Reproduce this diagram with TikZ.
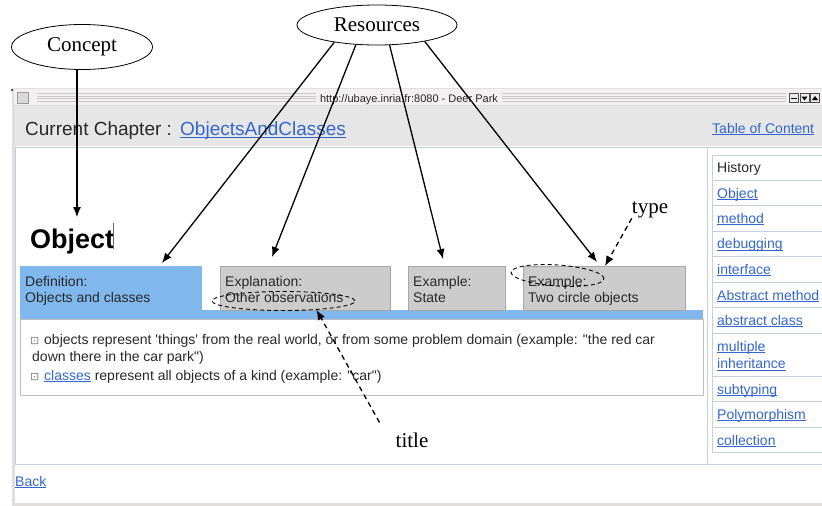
\documentclass[tikz,border=0pt]{standalone}
\usepackage{fontspec}
\usetikzlibrary{shapes.geometric,arrows.meta}
\newfontfamily\ui{Liberation Sans}
\newfontfamily\ann{Liberation Serif}
\newfontfamily\dv{DejaVu Sans}
\definecolor{linkblue}{RGB}{51,102,204}
\definecolor{txtgrey}{RGB}{40,40,40}
\definecolor{tabblue}{RGB}{128,184,238}
\definecolor{tabgrey}{RGB}{204,204,204}
\definecolor{tabborder}{RGB}{168,168,168}
\definecolor{headgrey}{RGB}{230,230,230}
\definecolor{framegrey}{RGB}{226,222,222}
\definecolor{panelline}{RGB}{196,206,222}
\definecolor{barbg}{RGB}{242,240,240}
\definecolor{stripe}{RGB}{200,200,200}
\newcommand\lk[1]{\sbox0{#1}\leavevmode\rlap{\rule[-0.17em]{\wd0}{0.07em}}\usebox0}
\begin{document}
\begin{tikzpicture}[x=1pt,y=-1pt,
  uitext/.style={font=\ui\fontsize{14}{17}\selectfont, text=txtgrey, inner sep=0, anchor=base west},
  bodytext/.style={uitext},
  lnk/.style={uitext, text=linkblue},
  anntext/.style={font=\ann\fontsize{21}{24}\selectfont, inner sep=0},
  annell/.style={ellipse, draw, line width=0.8pt, inner sep=0, anntext},
  arr/.style={line width=1.3pt, -{Latex[length=10pt,width=8pt]}},
  darr/.style={arr, dash pattern=on 5pt off 4pt},
  dell/.style={ellipse, draw, line width=0.9pt, dash pattern=on 4pt off 3pt, inner sep=0},
  tabbox/.style={draw=tabborder, fill=tabgrey, line width=0.8pt},
  panel/.style={draw=panelline, line width=0.8pt},
  winbtn/.style={draw=black!70, fill=black!8, line width=0.5pt, minimum size=9pt, inner sep=0},
  boxicon/.style={uitext, font=\dv\fontsize{11}{13}\selectfont, text=black!50}
]
\useasboundingbox (0,0) rectangle (822,506);
% window frame
\fill[framegrey] (12,88) rectangle (822,506);
\fill[white] (15,106) rectangle (822,503);
% title bar
\fill[barbg] (14,89) rectangle (822,105);
\fill[black!70] (11,89) rectangle (13,91);
\node[winbtn, fill=black!15, draw=black!40, minimum size=11pt] (sysbtn) at (23,97.5) {};
\foreach \yy in {93.5,96,98.5,101}{
  \draw[stripe, line width=0.6pt] (37,\yy) -- (316,\yy);
  \draw[stripe, line width=0.6pt] (502,\yy) -- (786,\yy);
}
\node[font=\ui\fontsize{11}{12}\selectfont, text=txtgrey, inner sep=0, anchor=base] (wtitle) at (409,102) {http://ubaye.inria.fr:8080 - Deer Park};
\node[winbtn] (bmin) at (794,98) {};
\node[winbtn] (bdown) at (804.5,98) {};
\node[winbtn] (bup) at (815,98) {};
\draw[black, line width=1pt] (791,98) -- (797,98);
\fill[black] (801.5,96.5) -- (807.5,96.5) -- (804.5,100.5) -- cycle;
\fill[black] (812,100) -- (818,100) -- (815,96) -- cycle;
% header
\fill[headgrey] (15,106) rectangle (822,146);
\draw[panel] (15,147) -- (822,147);
\node[uitext, font=\ui\fontsize{19}{22}\selectfont] (chap) at (25,135) {Current Chapter : };
\node[lnk, font=\ui\fontsize{19}{22}\selectfont] (chaplink) at (180,135) {\lk{ObjectsAndClasses}};
\node[lnk] (toc) at (712,133) {\lk{Table of Content}};
% panels
\draw[panel] (707,147) -- (707,464);
\draw[panel] (15,464) -- (822,464);
\draw[panel] (15,147) -- (15,464);
% TOC table
\draw[panel] (712,155) -- (830,155) (712,155) -- (712,452) -- (830,452);
\foreach \yy in {180,205.5,231,256.5,282,307.5,333,376,401.5,427}{
  \draw[panel] (712,\yy) -- (830,\yy);
}
\node[uitext] (th) at (717,172.5) {History};
\node[lnk] (t1) at (717,198) {\lk{Object}};
\node[lnk] (t2) at (717,223) {\lk{method}};
\node[lnk] (t3) at (717,248.5) {\lk{debugging}};
\node[lnk] (t4) at (717,274) {\lk{interface}};
\node[lnk] (t5) at (717,300) {\lk{Abstract method}};
\node[lnk] (t6) at (717,325) {\lk{abstract class}};
\node[lnk] (t7a) at (717,351) {\lk{multiple}};
\node[lnk] (t7b) at (717,368.5) {\lk{inheritance}};
\node[lnk] (t8) at (717,394) {\lk{subtyping}};
\node[lnk] (t9) at (717,419) {\lk{Polymorphism}};
\node[lnk] (t10) at (717,445) {\lk{collection}};
% Object heading
\node[uitext, text=black, font=\ui\bfseries\fontsize{27}{31}\selectfont] (objtitle) at (30,248) {Object};
\draw[black!60, line width=0.8pt] (113,223) -- (113,249);
\coordinate (objtip) at (77,217);
% tabs
\fill[tabblue] (20,266) rectangle (202,319);
\fill[tabblue] (20,310) rectangle (703,319);
\draw[panel, draw=black!25] (20,319) rectangle (703,395);
\draw[tabbox] (220,266) rectangle (390,310);
\draw[tabbox] (408,266) rectangle (505,310);
\draw[tabbox] (523,266) rectangle (685,310);
\node[uitext] (d1) at (25,286) {Definition:};
\node[uitext] (d2) at (25,302) {Objects and classes};
\node[uitext] (e1) at (225,286) {Explanation:};
\node[uitext] (e2) at (225,302) {Other observations};
\node[uitext] (s1) at (413,286) {Example:};
\node[uitext] (s2) at (413,302) {State};
\node[uitext] (c1) at (528,286) {Example:};
\node[uitext] (c2) at (528,302) {Two circle objects};
% body
\node[boxicon] (b1) at (30,344) {⊡};
\node[bodytext] (l1) at (44,344) {objects represent 'things' from the real world, or from some problem domain (example: "the red car};
\node[bodytext] (l2) at (32,361) {down there in the car park")};
\node[boxicon] (b2) at (30,380) {⊡};
\node[bodytext] (l3) at (44,380) {\textcolor{linkblue}{\lk{classes}} represent all objects of a kind (example: "car")};
\node[lnk] (back) at (15,486) {\lk{Back}};
% annotations
\node[annell, minimum width=141, minimum height=45] (concept) at (82,47) {Concept};
\node[annell, minimum width=160, minimum height=40] (res) at (377,25) {Resources};
\coordinate (tipdef) at (162,263);
\coordinate (tipexp) at (272,257);
\coordinate (tipsta) at (443,259);
\coordinate (tipcir) at (597,262);
\draw[arr] (concept.south -| objtip) -- (objtip);
\draw[arr] (res.202) -- (tipdef);
\draw[arr] (res.223) -- (tipexp);
\draw[arr] (res.302) -- (tipsta);
\draw[arr] (res.341) -- (tipcir);
\node[dell, minimum width=93, minimum height=21, rotate=-4] (typeell) at (557.5,275.5) {};
\node[dell, minimum width=143, minimum height=19] (titleell) at (283.5,301) {};
\node[anntext] (type) at (650,210) {type};
\node[anntext] (title) at (412,440) {title};
\coordinate (typetip) at (605,266);
\draw[darr] (type.south west) -- (typetip);
\draw[darr] ([shift={(-16,-10)}]title.north west) -- (titleell.345);
\end{tikzpicture}
\end{document}
